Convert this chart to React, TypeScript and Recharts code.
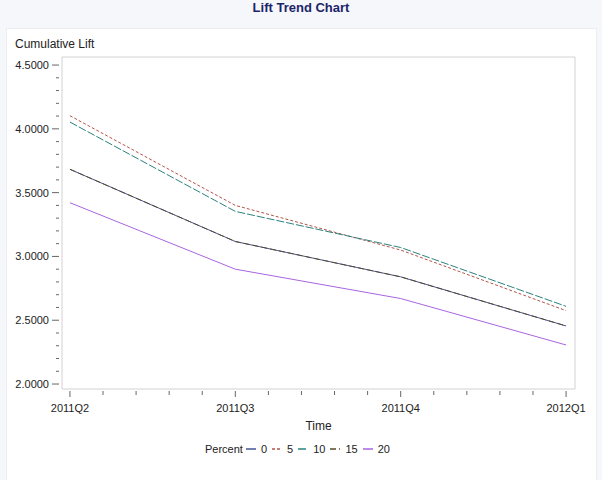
import React from 'react';
import { LineChart, Line, XAxis, YAxis, ReferenceArea, Legend, Label } from 'recharts';

const quarters = ['2011Q2', '2011Q3', '2011Q4', '2012Q1'];
const qIndex = [0, 1, 2, 3];
const pct0 = [3.683, 3.117, 2.84, 2.455];
const pct5 = [4.103, 3.4, 3.05, 2.575];
const pct10 = [4.053, 3.353, 3.07, 2.609];
const pct15 = [3.683, 3.117, 2.84, 2.455];
const pct20 = [3.421, 2.9, 2.67, 2.306];

const seriesDefs = [
  { key: 'p0', name: '0', values: pct0, color: '#445694', dash: undefined as string | undefined },
  { key: 'p5', name: '5', values: pct5, color: '#B4544B', dash: '3 2' },
  { key: 'p10', name: '10', values: pct10, color: '#2A827C', dash: '8 2' },
  { key: 'p15', name: '15', values: pct15, color: '#5A4A2A', dash: '6 3' },
  { key: 'p20', name: '20', values: pct20, color: '#A866E0', dash: undefined },
];

const data = qIndex.map((t, i) => {
  const row: Record<string, number | string> = { t, q: quarters[i] };
  seriesDefs.forEach((s) => {
    row[s.key] = s.values[i];
  });
  return row;
});

const xDomain: [number, number] = [-0.048, 3.054];
const yDomain: [number, number] = [1.961, 4.563];
const xTicks = Array.from({ length: 16 }, (_, i) => Math.round(i * 0.2 * 10) / 10);
const yTicks = Array.from({ length: 26 }, (_, i) => Math.round((2 + i * 0.1) * 10) / 10);

const FONT = '"Liberation Sans", Arial, sans-serif';

const XTick = (props: any) => {
  const { x, y, payload } = props;
  const v = payload.value as number;
  const major = Math.abs(v - Math.round(v)) < 1e-6;
  return (
    <g>
      <line x1={x} x2={x} y1={y + 2} y2={y + (major ? 8 : 6)} stroke="#666" strokeWidth={1} />
      {major && (
        <text x={x} y={y + 23} textAnchor="middle" fontSize={11} fontFamily={FONT} fill="#222">
          {quarters[Math.round(v)]}
        </text>
      )}
    </g>
  );
};

const YTick = (props: any) => {
  const { x, y, payload } = props;
  const v = payload.value as number;
  const major = Math.abs(v * 2 - Math.round(v * 2)) < 1e-6;
  return (
    <g>
      <line x1={x - (major ? 10 : 6)} x2={x - 3} y1={y} y2={y} stroke="#666" strokeWidth={1} />
      {major && (
        <text x={x - 13} y={y + 4} textAnchor="end" fontSize={11} fontFamily={FONT} fill="#222">
          {v.toFixed(4)}
        </text>
      )}
    </g>
  );
};

const renderLegend = () => (
  <div
    style={{
      position: 'absolute',
      left: 205,
      top: 0,
      display: 'flex',
      alignItems: 'center',
      fontFamily: FONT,
      fontSize: 11,
      color: '#222',
      whiteSpace: 'nowrap',
    }}
  >
    <span style={{ marginRight: 3 }}>Percent</span>
    {seriesDefs.map((s) => (
      <span key={s.key} style={{ display: 'inline-flex', alignItems: 'center', marginRight: 5 }}>
        <svg width={11} height={6} style={{ marginRight: 4 }}>
          <line x1={0} x2={10} y1={3} y2={3} stroke={s.color} strokeWidth={1.5} strokeDasharray={s.dash} />
        </svg>
        <span>{s.name}</span>
      </span>
    ))}
  </div>
);

export default function App() {
  return (
    <div style={{ position: 'absolute', left: 0, top: 0, width: 602, height: 480, background: '#F6F7FB', overflow: 'hidden' }}>
      <div
        style={{
          position: 'absolute',
          left: 0,
          top: 0,
          width: 602,
          textAlign: 'center',
          fontFamily: FONT,
          fontWeight: 'bold',
          fontSize: 13,
          color: '#1C2567',
          lineHeight: '15px',
        }}
      >
        Lift Trend Chart
      </div>
      <div
        style={{
          position: 'absolute',
          left: 6,
          top: 28,
          width: 591,
          height: 460,
          background: '#FFFFFF',
          border: '1px solid #EBEDF3',
          boxSizing: 'border-box',
        }}
      />
      <div style={{ position: 'absolute', left: 0, top: 0 }}>
        <LineChart width={602} height={480} data={data} margin={{ top: 57, right: 27, left: 6, bottom: 0 }}>
          <XAxis
            dataKey="t"
            type="number"
            domain={xDomain}
            ticks={xTicks}
            interval={0}
            allowDataOverflow
            height={91}
            tickSize={0}
            tickMargin={0}
            axisLine={false}
            tickLine={false}
            tick={<XTick />}
          >
            <Label
              value="Time"
              position="insideTop"
              offset={32}
              style={{ fontFamily: FONT, fontSize: 12, fill: '#222' }}
            />
          </XAxis>
          <YAxis
            type="number"
            domain={yDomain}
            ticks={yTicks}
            interval={0}
            allowDataOverflow
            width={56}
            tickSize={0}
            tickMargin={0}
            axisLine={false}
            tickLine={false}
            tick={<YTick />}
            label={{
              content: (p: any) => (
                <text
                  x={p.viewBox.x + 9}
                  y={p.viewBox.y - 9}
                  fontFamily={FONT}
                  fontSize={12}
                  fill="#222"
                >
                  Cumulative Lift
                </text>
              ),
            }}
          />
          <ReferenceArea
            x1={xDomain[0]}
            x2={xDomain[1]}
            y1={yDomain[0]}
            y2={yDomain[1]}
            fill="none"
            stroke="#D2D2D2"
            strokeWidth={1}
          />
          {seriesDefs.map((s) => (
            <Line
              key={s.key}
              type="linear"
              dataKey={s.key}
              name={s.name}
              stroke={s.color}
              strokeWidth={1}
              strokeDasharray={s.dash}
              dot={false}
              activeDot={false}
              isAnimationActive={false}
            />
          ))}
          <Legend
            verticalAlign="bottom"
            wrapperStyle={{ position: 'absolute', left: 0, top: 443, width: 602, height: 0 }}
            content={renderLegend}
          />
        </LineChart>
      </div>
    </div>
  );
}
